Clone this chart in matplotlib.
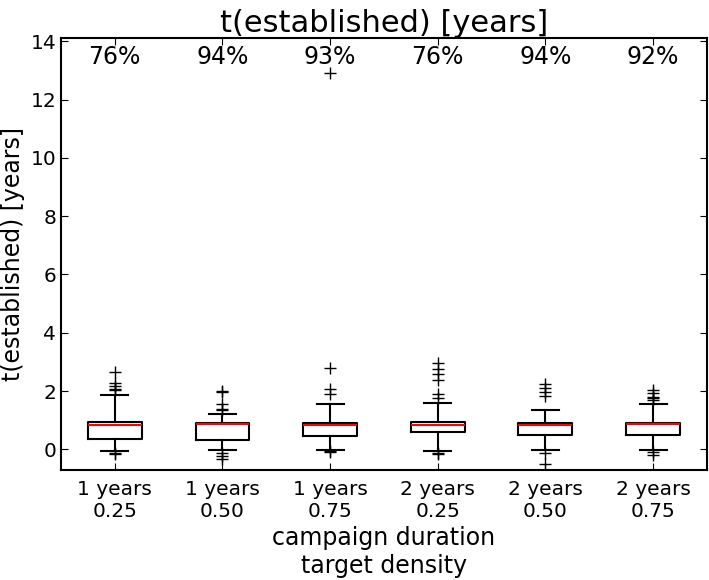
import matplotlib
matplotlib.use("Agg")
import matplotlib.pyplot as plt

labels = ["1 years\n0.25", "1 years\n0.50", "1 years\n0.75",
          "2 years\n0.25", "2 years\n0.50", "2 years\n0.75"]
pct = ["76%", "94%", "93%", "76%", "94%", "92%"]

q1 = [0.37, 0.33, 0.45, 0.59, 0.51, 0.49]
med = [0.84, 0.87, 0.83, 0.82, 0.84, 0.87]
q3 = [0.94, 0.90, 0.92, 0.95, 0.91, 0.92]
whislo = [-0.05, -0.01, -0.01, -0.07, -0.02, -0.02]
whishi = [1.86, 1.23, 1.56, 1.60, 1.34, 1.54]
fliers = [
    [2.67, 2.27, 2.17, 2.08, 2.02, -0.12, -0.16],
    [2.0, 1.97, 1.56, 1.40, 1.34, -0.14, -0.23, -0.33],
    [12.9, 2.78, 2.08, 1.91, -0.05, -0.10],
    [2.96, 2.75, 2.57, 2.38, 1.91, 1.75, -0.13, -0.17],
    [2.23, 2.10, 1.97, 1.83, -0.13, -0.51],
    [2.03, 1.95, 1.81, 1.75, 1.69, -0.08, -0.20],
]

stats = []
for i in range(6):
    stats.append(dict(q1=q1[i], med=med[i], q3=q3[i], whislo=whislo[i],
                      whishi=whishi[i], fliers=fliers[i], label=labels[i]))

fig = plt.figure(figsize=(7.09, 5.8), dpi=100)
ax = fig.add_axes([0.086, 0.19, 0.911, 0.745])

ax.bxp(stats, widths=0.5,
       boxprops=dict(color="black", lw=1.5),
       whiskerprops=dict(color="black", lw=1.5),
       capprops=dict(color="black", lw=1.5),
       medianprops=dict(color="red", lw=1.5),
       flierprops=dict(marker="+", markeredgecolor="black", markersize=9, markeredgewidth=1))

# fraction of runs that got established
for i, p in enumerate(pct):
    ax.text(i + 1, 13.45, p, ha="center", va="center", fontsize=17)

ax.set_xlim(0.5, 6.5)
ax.set_ylim(-0.7, 14.12)
ax.set_yticks(range(0, 15, 2))
ax.tick_params(direction="in", top=True, right=True, labelsize=14.5, length=5)
ax.tick_params(axis="x", pad=7)
for s in ax.spines.values():
    s.set_linewidth(1.5)

ax.set_title("t(established) [years]", fontsize=22, pad=4)
ax.set_ylabel("t(established) [years]", fontsize=17)
ax.set_xlabel("campaign duration\ntarget density", fontsize=17)

fig.savefig("out.png")
